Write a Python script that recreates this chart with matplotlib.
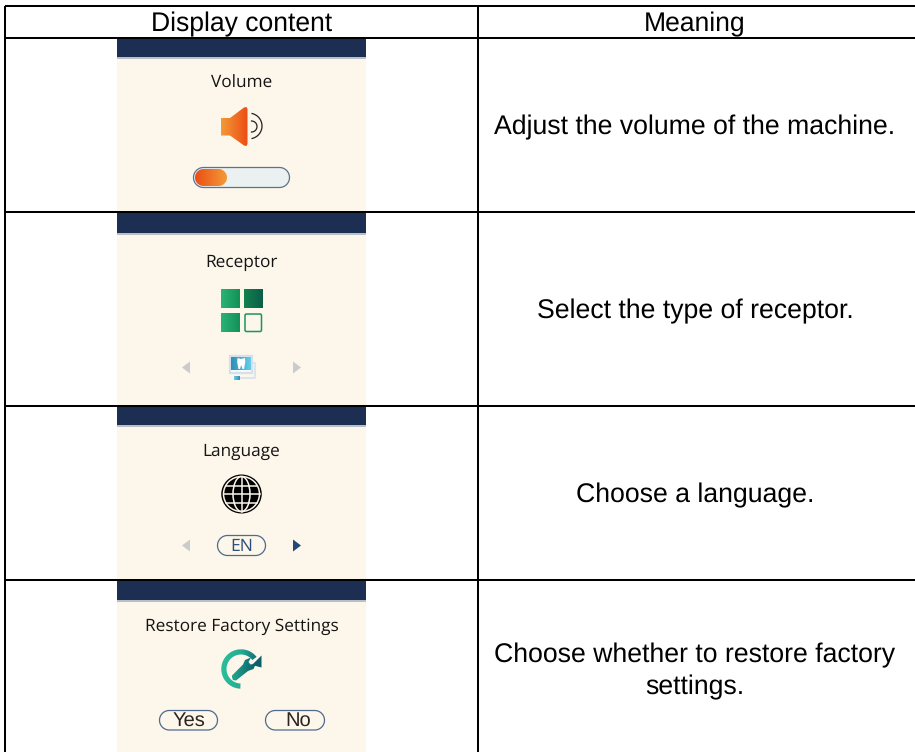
import numpy as np
import matplotlib
matplotlib.use("Agg")
import matplotlib.pyplot as plt
from matplotlib.colors import LinearSegmentedColormap
from matplotlib.patches import Ellipse, FancyBboxPatch, Polygon, Rectangle

plt.rcParams["text.hinting"] = "no_hinting"

# table contents
headers = ["Display content", "Meaning"]
screen_titles = ["Volume", "Receptor", "Language", "Restore Factory Settings"]
meanings = [
    "Adjust the volume of the machine.",
    "Select the type of receptor.",
    "Choose a language.",
]
last_meaning = ["Choose whether to restore factory", "settings."]

# table grid, in pixels
row_lines = [6, 38, 212, 406, 580]
col_lines = [5, 478]
FIG_W, FIG_H = 915, 752

NAVY = "#1c2e51"
CREAM = "#fdf6ea"
ORANGE = LinearSegmentedColormap.from_list("o", ["#f29a38", "#ec4e14"])
GREEN = LinearSegmentedColormap.from_list("g", ["#29b473", "#149058"])
DGREEN = LinearSegmentedColormap.from_list("dg", ["#12824f", "#0a5e48"])
TEAL = LinearSegmentedColormap.from_list("t", ["#2bbf9a", "#25ab94", "#0a5f6b"])
WRENCH = LinearSegmentedColormap.from_list("w", ["#1fa88e", "#0a5f6b"])
BLUE = LinearSegmentedColormap.from_list("b", ["#2f8fb8", "#66cdea"])


def grad(ax, x0, x1, y0, y1, cmap, clip=None, z=3):
    g = np.linspace(0, 1, 64).reshape(1, -1)
    im = ax.imshow(g, extent=(x0, x1, y1, y0), cmap=cmap, aspect="auto", zorder=z)
    if clip is not None:
        clip.set_transform(ax.transData)
        im.set_clip_path(clip)
    return im


def pill(ax, x0, x1, y0, y1, fc="none", ec="#5d7290", lw=0.9, z=3):
    r = (y1 - y0) / 2
    a = np.linspace(-np.pi / 2, np.pi / 2, 30)
    right = np.c_[x1 - r + r * np.cos(a), y0 + r + r * np.sin(a)]
    left = np.c_[x0 + r - r * np.cos(a[::-1]), y0 + r + r * np.sin(a[::-1])]
    p = Polygon(np.r_[right, left], closed=True, fc=fc, ec=ec, lw=lw, zorder=z)
    ax.add_patch(p)
    return p


def screen(ax, y0, y1, bar_h):
    ax.add_patch(Rectangle((117, y0), 249, y1 - y0, fc=CREAM, ec="none", zorder=1))
    ax.add_patch(Rectangle((117, y0), 249, bar_h, fc=NAVY, ec="none", zorder=2))
    ax.add_patch(Rectangle((117, y0 + bar_h), 249, 1.5, fc="#b9bfc6", ec="none", zorder=2))


def tri(ax, x, y, w, h, color, right=True):
    tip = x + w if right else x - w
    ax.add_patch(Polygon([(x, y - h), (x, y + h), (tip, y)], fc=color, ec="none", zorder=3))


def arc_line(ax, cx, cy, r, deg):
    a = np.radians(np.linspace(-deg, deg, 40))
    ax.plot(cx + r * np.cos(a), cy + r * np.sin(a), color="#222222", lw=0.9, zorder=3)


fig = plt.figure(figsize=(FIG_W / 100, FIG_H / 100), dpi=100)
ax = fig.add_axes([0, 0, 1, 1])

# screens
screen(ax, 39, 211, 18)
screen(ax, 213, 405, 20)
screen(ax, 407, 579, 18)
screen(ax, 581, 752, 19)

for t, y in zip(screen_titles, [83, 262.5, 452, 626.5]):
    ax.text(241.5, y, t, ha="center", va="center", fontsize=12.4,
            family="Open Sans", color="#141414", zorder=4)

# volume icon
spk = Polygon([(221, 118), (230, 118), (244, 107.5), (246.5, 107), (247.5, 109), (247.5, 144),
               (246.5, 146), (244, 145.5), (230, 135.5), (221, 135.5)], closed=True, fc="none", ec="none")
ax.add_patch(spk)
grad(ax, 221, 248, 106, 147, ORANGE, spk)
arc_line(ax, 249.2, 126, 12.8, 77)
arc_line(ax, 251.5, 126.5, 5.5, 90)
pill(ax, 193.5, 289.5, 167.5, 187.5, fc="#ebf0f0", ec="#5d7290")
knob = pill(ax, 195, 227, 169, 186, ec="none", lw=0)
grad(ax, 227, 195, 169, 186, ORANGE, knob)

# receptor icon
for (x0, y0, cm) in [(221, 289, GREEN), (244, 289, DGREEN), (221, 313, GREEN)]:
    grad(ax, x0, x0 + 19, y0, y0 + 19, cm)
ax.add_patch(FancyBboxPatch((245, 314), 16.5, 17.5, boxstyle="round,pad=0,rounding_size=1.5",
                            fc=CREAM, ec="#1a9560", lw=1.1, zorder=3))
tri(ax, 190, 367.5, 8, 6, "#c9cbcc", right=False)
tri(ax, 293, 367.5, 8, 6, "#c9cbcc", right=True)
ax.plot([252, 254.5, 254.5, 239], [363, 363, 378, 378], color="#dbe4ec", lw=1.5, zorder=3)
ax.add_patch(Rectangle((229.5, 355.5), 22.5, 17, fc="#f8fbfd", ec="#d5e0ea", lw=1.6, zorder=3))
grad(ax, 231, 251, 357.5, 370.5, BLUE)
ax.add_patch(Polygon([(237.5, 358), (241, 359), (245, 358), (245.3, 362), (244, 369), (242.5, 369),
                      (241.2, 365), (240, 369), (238.5, 369), (237.2, 362)],
                     fc="white", ec="none", zorder=4))
grad(ax, 240, 234, 376, 380, BLUE)

# language icon
ax.add_patch(Ellipse((241.5, 494), 40.5, 39, fc="black", ec="none", zorder=3))
ax.add_patch(Ellipse((241.5, 494), 36, 35, fc="none", ec=CREAM, lw=1.1, zorder=4))
ax.add_patch(Ellipse((241.5, 494), 17, 35, fc="none", ec=CREAM, lw=1.1, zorder=4))
ax.plot([241.5, 241.5], [476.5, 511.5], color=CREAM, lw=1.1, zorder=4)
for dy, hw in [(-8.5, 15.3), (0, 18), (8.5, 15.3)]:
    ax.plot([241.5 - hw, 241.5 + hw], [494 + dy] * 2, color=CREAM, lw=1.1, zorder=4)
tri(ax, 190, 545.5, 8, 6, "#c9cbcc", right=False)
tri(ax, 293, 545.5, 8, 6, "#22497a", right=True)
pill(ax, 217.5, 265.5, 535.5, 555.5, ec="#4e6a8e")
ax.text(241.5, 546.5, "EN", ha="center", va="center", fontsize=12.6, family="Open Sans",
        color="#2c4f7c", zorder=4)

# restore icon
cx, cy = 241, 669
a = np.radians(np.linspace(92, 322, 80))
outer = np.c_[cx + 19.7 * np.cos(a), cy + 19.7 * np.sin(a)]
inner = np.c_[cx + 14.5 * np.cos(a[::-1]), cy + 14.5 * np.sin(a[::-1])]
ring = Polygon(np.r_[outer, inner], fc="none", ec="none")
ax.add_patch(ring)
grad(ax, 221, 262, 648, 690, TEAL, ring)
ax.add_patch(Polygon([(252, 665), (261.5, 655.5), (261.5, 667.5)], fc="#0a5f6b", ec="none", zorder=3))
wrench = Polygon([(231.5, 676), (243, 664.5), (245, 660), (251, 657.5), (248.5, 662), (250.5, 664.5),
                  (256, 663.5), (253.5, 669), (248, 671), (236, 680.5), (233, 680)],
                 fc="none", ec="none")
ax.add_patch(wrench)
grad(ax, 232, 256, 657, 681, WRENCH, wrench)
pill(ax, 159.5, 217.5, 710.5, 730, ec="#4e6a8e")
pill(ax, 265.5, 324.5, 710.5, 730, ec="#4e6a8e")
ax.text(189, 720.5, "Yes", ha="center", va="center", fontsize=14.5, family="Liberation Sans",
        color="#2b2320", zorder=4)
ax.text(298, 720.5, "No", ha="center", va="center", fontsize=14.5, family="Liberation Sans",
        color="#2b2320", zorder=4)

# grid lines, the right border is cut off in the original
for y in row_lines:
    ax.plot([col_lines[0], FIG_W], [y, y], color="black", lw=1.45, zorder=6, solid_capstyle="butt")
for x in col_lines:
    ax.plot([x, x], [row_lines[0], FIG_H], color="black", lw=1.45, zorder=6, solid_capstyle="butt")

# header + meaning text
ax.text(241.5, 24.5, headers[0], ha="center", va="center", fontsize=19.1, family="Liberation Sans")
ax.text(695, 24.5, headers[1], ha="center", va="center", fontsize=19.1, family="Liberation Sans")
for t, y in zip(meanings, [127, 311, 495]):
    ax.text(695, y, t, ha="center", va="center", fontsize=19.15, family="Liberation Sans")
for t, y in zip(last_meaning, [655, 687]):
    ax.text(695, y, t, ha="center", va="center", fontsize=19.15, family="Liberation Sans")

ax.set_xlim(0, FIG_W)
ax.set_ylim(FIG_H, 0)
ax.axis("off")
fig.savefig("out.png", dpi=100, facecolor="white")
